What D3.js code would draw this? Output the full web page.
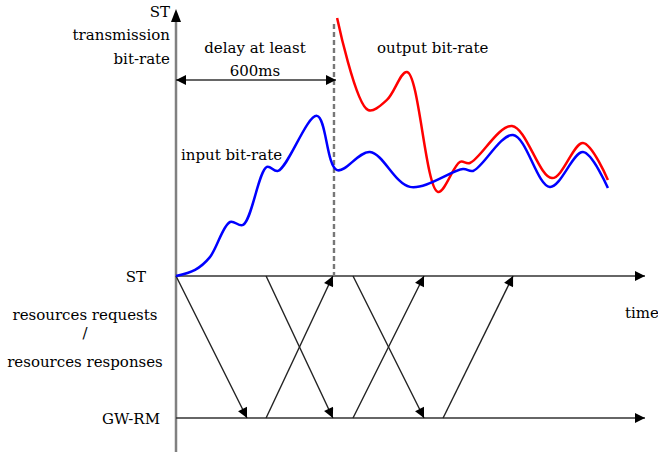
<!DOCTYPE html>
<html>
<head>
<meta charset="utf-8">
<script src="https://cdn.jsdelivr.net/npm/d3@7"></script>
<style>
  body { margin: 0; background: #fff; }
  text { font-family: "DejaVu Serif", "Liberation Serif", serif; font-size: 15px; fill: #000; }
</style>
</head>
<body>
<svg id="chart" width="658" height="457"></svg>
<script>
// time in ms, bit-rate in arbitrary units (0..100)
var inputTime = [0, 72, 128, 204, 253, 343, 385, 532, 608, 732, 883, 1083, 1121, 1272, 1411, 1536, 1630];
var inputRate = [0, 2.3, 7.1, 20.3, 19.2, 41, 39.5, 60.2, 39.8, 46.6, 33.5, 40.2, 39.5, 53, 33.5, 46.6, 33.1];
var outputTime = [608, 725, 796, 872, 989, 1072, 1109, 1268, 1419, 1536, 1630];
var outputRate = [97, 62.4, 66.2, 76.7, 31.6, 42.9, 42.5, 56.4, 36.8, 50, 36.1];

var delayMs = 600;
var levels = ["ST", "GW-RM"];
// resource request / response messages: [send time, arrival time, from, to]
var msgStart = [0, 340, 340, 668, 668, 1008];
var msgEnd = [268, 592, 592, 936, 936, 1272];
var msgFrom = ["ST", "ST", "GW-RM", "ST", "GW-RM", "GW-RM"];
var msgTo = ["GW-RM", "GW-RM", "ST", "GW-RM", "ST", "ST"];

var svg = d3.select("#chart");

var x = d3.scaleLinear().domain([0, 1770]).range([176, 645]);
var y = d3.scaleLinear().domain([0, 100]).range([276, 10]);
var lane = d3.scalePoint().domain(levels).range([276, 418]);

var defs = svg.append("defs");
defs.append("marker")
  .attr("id", "head")
  .attr("viewBox", "0 0 10 10")
  .attr("refX", 10).attr("refY", 5)
  .attr("markerWidth", 12).attr("markerHeight", 10)
  .attr("markerUnits", "userSpaceOnUse")
  .attr("orient", "auto-start-reverse")
  .append("path")
  .attr("d", "M0,0L10,5L0,10Z")
  .attr("fill", "#000");

// vertical axis
svg.append("line")
  .attr("x1", x(0)).attr("x2", x(0))
  .attr("y1", 452).attr("y2", y(100) + 10)
  .attr("stroke", "#808080").attr("stroke-width", 2.5);
svg.append("path")
  .attr("d", "M" + (x(0) - 5) + "," + (y(100) + 12) + "L" + x(0) + "," + (y(100) - 1) + "L" + (x(0) + 5) + "," + (y(100) + 12) + "Z")
  .attr("fill", "#000");

// horizontal time lines
levels.forEach(function(l) {
  svg.append("line")
    .attr("x1", x(0)).attr("x2", x(1770))
    .attr("y1", lane(l)).attr("y2", lane(l))
    .attr("stroke", "#333").attr("stroke-width", 1.6)
    .attr("marker-end", "url(#head)");
});

// messages
msgStart.forEach(function(s, i) {
  svg.append("line")
    .attr("x1", x(s)).attr("y1", lane(msgFrom[i]))
    .attr("x2", x(msgEnd[i])).attr("y2", lane(msgTo[i]))
    .attr("stroke", "#222").attr("stroke-width", 1.4)
    .attr("marker-end", "url(#head)");
});

// delay dashed line
svg.append("line")
  .attr("x1", x(delayMs) - 1).attr("x2", x(delayMs) - 1)
  .attr("y1", 24).attr("y2", lane("ST"))
  .attr("stroke", "#777").attr("stroke-width", 2.4)
  .attr("stroke-dasharray", "5,3");

// delay double arrow
svg.append("line")
  .attr("x1", x(0)).attr("x2", x(delayMs) + 1)
  .attr("y1", 80).attr("y2", 80)
  .attr("stroke", "#333").attr("stroke-width", 1.6)
  .attr("marker-start", "url(#head)")
  .attr("marker-end", "url(#head)");

var line = d3.line()
  .x(function(d) { return x(d[0]); })
  .y(function(d) { return y(d[1]); })
  .curve(d3.curveCatmullRom.alpha(0.5));

svg.append("path")
  .datum(d3.zip(outputTime, outputRate))
  .attr("d", line)
  .attr("fill", "none").attr("stroke", "#ff0000").attr("stroke-width", 2.5);

svg.append("path")
  .datum(d3.zip(inputTime, inputRate))
  .attr("d", line)
  .attr("fill", "none").attr("stroke", "#0000ff").attr("stroke-width", 2.5);

// labels
var labels = [
  { t: "ST", x: 170, y: 17, a: "end" },
  { t: "transmission", x: 170, y: 40, a: "end" },
  { t: "bit-rate", x: 170, y: 64, a: "end" },
  { t: "delay at least", x: 255, y: 53, a: "middle" },
  { t: "600ms", x: 255, y: 76, a: "middle" },
  { t: "input bit-rate", x: 181, y: 160, a: "start" },
  { t: "output bit-rate", x: 377, y: 53, a: "start" },
  { t: "ST", x: 146, y: 282, a: "end" },
  { t: "resources requests", x: 85, y: 320, a: "middle" },
  { t: "/", x: 85, y: 338, a: "middle" },
  { t: "resources responses", x: 85, y: 367, a: "middle" },
  { t: "GW-RM", x: 160, y: 424, a: "end" },
  { t: "time", x: 625, y: 318, a: "start" }
];
svg.selectAll("text.lbl")
  .data(labels)
  .enter().append("text")
  .attr("class", "lbl")
  .attr("x", function(d) { return d.x; })
  .attr("y", function(d) { return d.y; })
  .attr("text-anchor", function(d) { return d.a; })
  .text(function(d) { return d.t; });
</script>
</body>
</html>
